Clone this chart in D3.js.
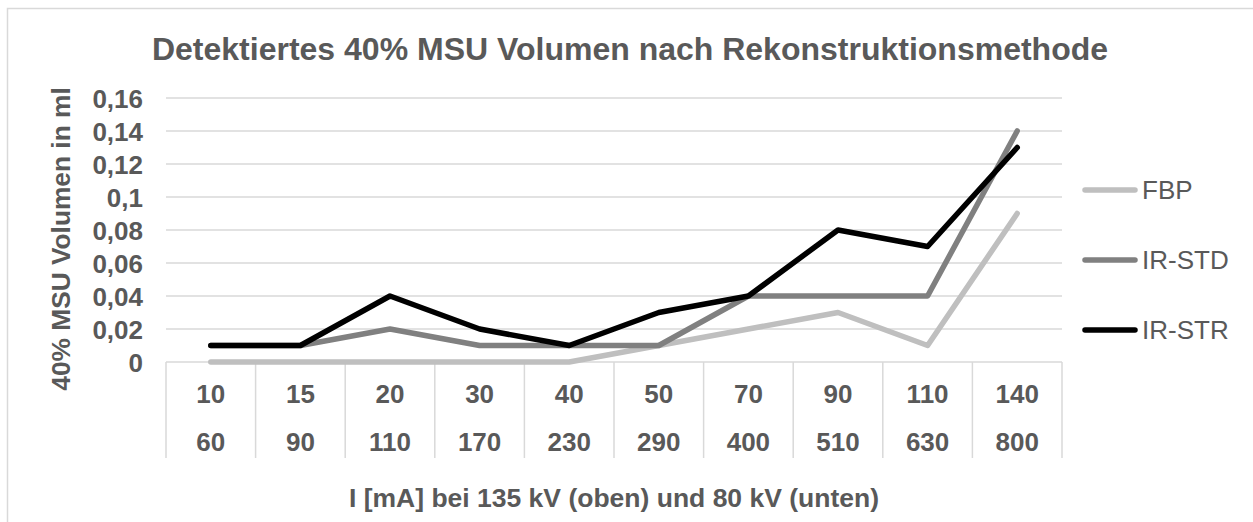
<!DOCTYPE html>
<html>
<head>
<meta charset="utf-8">
<script src="https://cdn.jsdelivr.net/npm/d3@7"></script>
<style>
  html, body { margin: 0; padding: 0; background: #ffffff; }
  svg { display: block; font-family: "Liberation Sans", Arial, sans-serif; }
</style>
</head>
<body>
<svg id="chart" width="1253" height="522"></svg>
<script>
// ---- data ----
const categoriesTop = ["10", "15", "20", "30", "40", "50", "70", "90", "110", "140"];
const categoriesBottom = ["60", "90", "110", "170", "230", "290", "400", "510", "630", "800"];
const seriesNames = ["FBP", "IR-STD", "IR-STR"];
const fbpValues   = [0, 0, 0, 0, 0, 0.01, 0.02, 0.03, 0.01, 0.09];
const irStdValues = [0.01, 0.01, 0.02, 0.01, 0.01, 0.01, 0.04, 0.04, 0.04, 0.14];
const irStrValues = [0.01, 0.01, 0.04, 0.02, 0.01, 0.03, 0.04, 0.08, 0.07, 0.13];
const yTickValues = [0, 0.02, 0.04, 0.06, 0.08, 0.1, 0.12, 0.14, 0.16];
const yTickLabels = ["0", "0,02", "0,04", "0,06", "0,08", "0,1", "0,12", "0,14", "0,16"];
const titleText = "Detektiertes 40% MSU Volumen nach Rekonstruktionsmethode";
const xTitleText = "I [mA] bei 135 kV (oben) und 80 kV (unten)";
const yTitleText = "40% MSU Volumen in ml";

const seriesColors = ["#bfbfbf", "#808080", "#000000"];
const textColor = "#595959";
const gridColor = "#d9d9d9";

const series = seriesNames.map((name, i) => ({
  name,
  color: seriesColors[i],
  values: [fbpValues, irStdValues, irStrValues][i]
}));

// ---- layout ----
const svg = d3.select("#chart");
const plot = { left: 166, right: 1062, top: 98, bottom: 362 };

const x = d3.scaleBand()
  .domain(d3.range(categoriesTop.length))
  .range([plot.left, plot.right])
  .paddingInner(0).paddingOuter(0);
const y = d3.scaleLinear().domain([0, 0.16]).range([plot.bottom, plot.top]);

// chart border
svg.append("rect")
  .attr("x", 7.5).attr("y", 8.5)
  .attr("width", 1260).attr("height", 530)
  .attr("fill", "none").attr("stroke", gridColor).attr("stroke-width", 1.5);

// title
svg.append("text")
  .attr("x", 630).attr("y", 60)
  .attr("text-anchor", "middle")
  .attr("font-size", 32).attr("font-weight", "bold")
  .attr("fill", textColor)
  .text(titleText);

// gridlines
svg.append("g").selectAll("line")
  .data(yTickValues)
  .join("line")
  .attr("x1", plot.left).attr("x2", plot.right)
  .attr("y1", d => y(d)).attr("y2", d => y(d))
  .attr("stroke", gridColor).attr("stroke-width", 1.5);

// y axis labels
const yAxis = d3.axisLeft(y)
  .tickValues(yTickValues)
  .tickFormat((d, i) => yTickLabels[i])
  .tickSize(0).tickPadding(0);
const yg = svg.append("g").attr("transform", `translate(143,0)`).call(yAxis);
yg.select(".domain").remove();
yg.selectAll("text")
  .attr("font-size", 26).attr("font-weight", "bold")
  .attr("font-family", "Liberation Sans, Arial, sans-serif")
  .attr("fill", textColor)
  .attr("dy", "0.35em");

// category separators
const bounds = d3.range(categoriesTop.length).map(i => x(i)).concat([plot.right]);
svg.append("g").selectAll("line")
  .data(bounds)
  .join("line")
  .attr("x1", d => d).attr("x2", d => d)
  .attr("y1", plot.bottom).attr("y2", 458)
  .attr("stroke", gridColor).attr("stroke-width", 1.5);

// category labels (two levels)
const cx = i => x(i) + x.bandwidth() / 2;
svg.append("g").selectAll("text")
  .data(categoriesTop)
  .join("text")
  .attr("x", (d, i) => cx(i)).attr("y", 403)
  .attr("text-anchor", "middle")
  .attr("font-size", 26).attr("font-weight", "bold")
  .attr("fill", textColor)
  .text(d => d);
svg.append("g").selectAll("text")
  .data(categoriesBottom)
  .join("text")
  .attr("x", (d, i) => cx(i)).attr("y", 451)
  .attr("text-anchor", "middle")
  .attr("font-size", 26).attr("font-weight", "bold")
  .attr("fill", textColor)
  .text(d => d);

// axis titles
svg.append("text")
  .attr("x", (plot.left + plot.right) / 2).attr("y", 507)
  .attr("text-anchor", "middle")
  .attr("font-size", 26.5).attr("font-weight", "bold")
  .attr("fill", textColor)
  .text(xTitleText);
svg.append("text")
  .attr("transform", "translate(70,239) rotate(-90)")
  .attr("text-anchor", "middle")
  .attr("font-size", 26.3).attr("font-weight", "bold")
  .attr("fill", textColor)
  .text(yTitleText);

// lines
const line = d3.line().x((d, i) => cx(i)).y(d => y(d));
svg.append("g").selectAll("path")
  .data(series)
  .join("path")
  .attr("d", d => line(d.values))
  .attr("fill", "none")
  .attr("stroke", d => d.color)
  .attr("stroke-width", 5.5)
  .attr("stroke-linejoin", "round")
  .attr("stroke-linecap", "round");

// legend
const legendY = [190, 260, 330];
const lg = svg.append("g").selectAll("g")
  .data(series)
  .join("g")
  .attr("transform", (d, i) => `translate(0,${legendY[i]})`);
lg.append("line")
  .attr("x1", 1085).attr("x2", 1135)
  .attr("y1", 0).attr("y2", 0)
  .attr("stroke", d => d.color).attr("stroke-width", 5.5)
  .attr("stroke-linecap", "round");
lg.append("text")
  .attr("x", 1142).attr("y", 9.3)
  .attr("font-size", 26)
  .attr("fill", textColor)
  .text(d => d.name);
</script>
</body>
</html>
